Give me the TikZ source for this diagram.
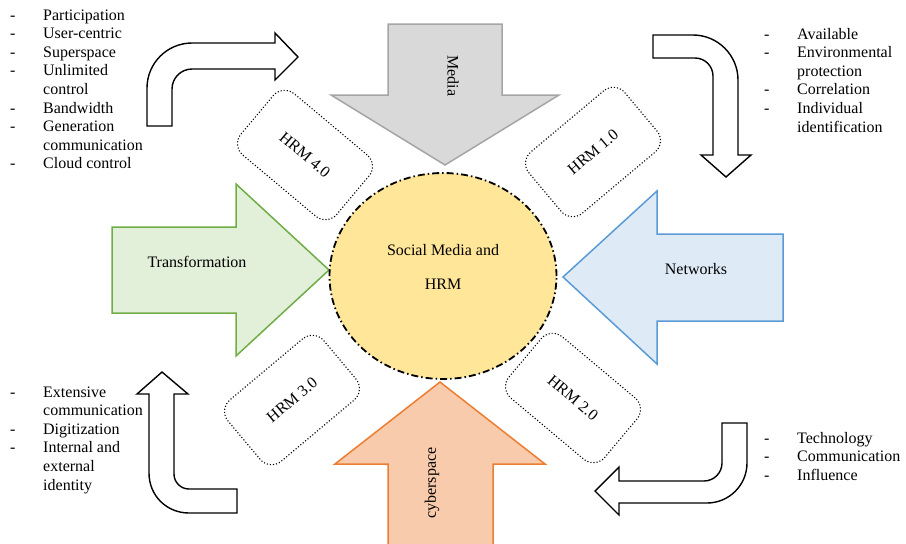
\documentclass[tikz,border=0pt]{standalone}
\usepackage{fontspec}
\setmainfont{Liberation Serif}
\usetikzlibrary{shapes.geometric}
\definecolor{mgrayf}{HTML}{D9D9D9}
\definecolor{mgrayd}{HTML}{A5A5A5}
\definecolor{mgreenf}{HTML}{E2F0D9}
\definecolor{mgreend}{HTML}{70AD47}
\definecolor{mbluef}{HTML}{DEEBF7}
\definecolor{mblued}{HTML}{5B9BD5}
\definecolor{moranf}{HTML}{F8CBAD}
\definecolor{morand}{HTML}{ED7D31}
\definecolor{myellf}{HTML}{FFE699}
\begin{document}
\begin{tikzpicture}[x=1pt,y=-1pt,
  bigarrow/.style={line width=1.5pt, line join=miter},
  bentarrow/.style={draw=black, fill=white, line width=1.4pt, line join=miter},
  lbl/.style={inner sep=0pt, font=\fontsize{16}{18}\selectfont},
  hrmbox/.style={draw, dotted, line width=1.1pt, rounded corners=15pt, minimum width=125pt, minimum height=80pt, inner sep=0pt, font=\fontsize{16}{18}\selectfont},
  lst/.style={anchor=base west, inner sep=0pt, font=\fontsize{16}{18.6}\selectfont}]
\useasboundingbox (0,0) rectangle (906,544);

% big arrows
\draw[bigarrow, draw=mgrayd, fill=mgrayf] (388,24) -- (502,24) -- (502,95) -- (559,95) -- (445,165) -- (331,95) -- (388,95) -- cycle;
\draw[bigarrow, draw=mgreend, fill=mgreenf] (112,227) -- (236,227) -- (236,184) -- (329,270) -- (236,356) -- (236,313) -- (112,313) -- cycle;
\draw[bigarrow, draw=mblued, fill=mbluef] (783,234) -- (657,234) -- (657,191) -- (563,277) -- (657,364) -- (657,321) -- (783,321) -- cycle;
\begin{scope}
\clip (0,0) rectangle (906,544);
\draw[bigarrow, draw=morand, fill=moranf] (440,382) -- (545,464) -- (493,464) -- (493,560) -- (388,560) -- (388,464) -- (335,464) -- cycle;
\end{scope}

\node[lbl, rotate=-90] (media) at (453,76) {Media};
\node[lbl] (trans) at (197,262) {Transformation};
\node[lbl] (netw) at (696,269) {Networks};
\node[lbl, rotate=90] (cyber) at (432,483) {cyberspace};

% centre
\node[draw=black, fill=myellf, ellipse, line width=1.8pt, dash pattern=on 7pt off 3pt on 1.5pt off 3pt, minimum width=227pt, minimum height=206pt, inner sep=0pt] (hub) at (443,276) {};
\node[lbl, align=center] (hubtxt) at (443,267) {Social Media and\\[16pt]HRM};

% HRM boxes
\node[hrmbox, rotate=-40] (h4) at (305,155) {HRM 4.0};
\node[hrmbox, rotate=40] (h1) at (593,152) {HRM 1.0};
\node[hrmbox, rotate=40] (h3) at (292,400) {HRM 3.0};
\node[hrmbox, rotate=-40] (h2) at (573,398) {HRM 2.0};

% bent arrows
\draw[bentarrow] (147,126) -- (147,88) .. controls (147,63.2) and (167.2,43) .. (192,43) -- (275,43) -- (275,33) -- (298,57) -- (275,80) -- (275,69) -- (192,69) .. controls (181,69) and (172,78) .. (172,89) -- (172,126) -- cycle;
\draw[bentarrow] (653,35) -- (693,35) .. controls (717.8,35) and (738,55.2) .. (738,80) -- (738,155) -- (751,155) -- (726,177) -- (701,155) -- (713,155) -- (713,76) .. controls (713,66.1) and (704.9,58) .. (695,58) -- (653,58) -- cycle;
\draw[bentarrow] (237,513) -- (189,513) .. controls (166.9,513) and (149,495.9) .. (149,473) -- (149,394) -- (137,394) -- (162,372) -- (188,394) -- (174,394) -- (174,474) .. controls (174,482.3) and (180.7,489) .. (189,489) -- (237,489) -- cycle;
\draw[bentarrow] (722,423) -- (747,423) -- (747,463) .. controls (747,485.1) and (729.1,503) .. (707,503) -- (619,503) -- (619,515) -- (595,491) -- (619,467) -- (619,481) -- (704,481) .. controls (713.9,481) and (722,472.9) .. (722,463) -- cycle;

% lists
\node[lst] (tl) at (10,20) {\begin{tabular}[t]{@{}p{33pt}@{}l@{}}
-&Participation\\ -&User-centric\\ -&Superspace\\ -&Unlimited\\ &control\\ -&Bandwidth\\ -&Generation\\ &communication\\ -&Cloud control\end{tabular}};
\node[lst] (tr) at (764,39) {\begin{tabular}[t]{@{}p{33pt}@{}l@{}}
-&Available\\ -&Environmental\\ &protection\\ -&Correlation\\ -&Individual\\ &identification\end{tabular}};
\node[lst] (bl) at (10,397) {\begin{tabular}[t]{@{}p{33pt}@{}l@{}}
-&Extensive\\ &communication\\ -&Digitization\\ -&Internal and\\ &external\\ &identity\end{tabular}};
\node[lst] (br) at (764,443) {\begin{tabular}[t]{@{}p{33pt}@{}l@{}}
-&Technology\\ -&Communication\\ -&Influence\end{tabular}};
\end{tikzpicture}
\end{document}
